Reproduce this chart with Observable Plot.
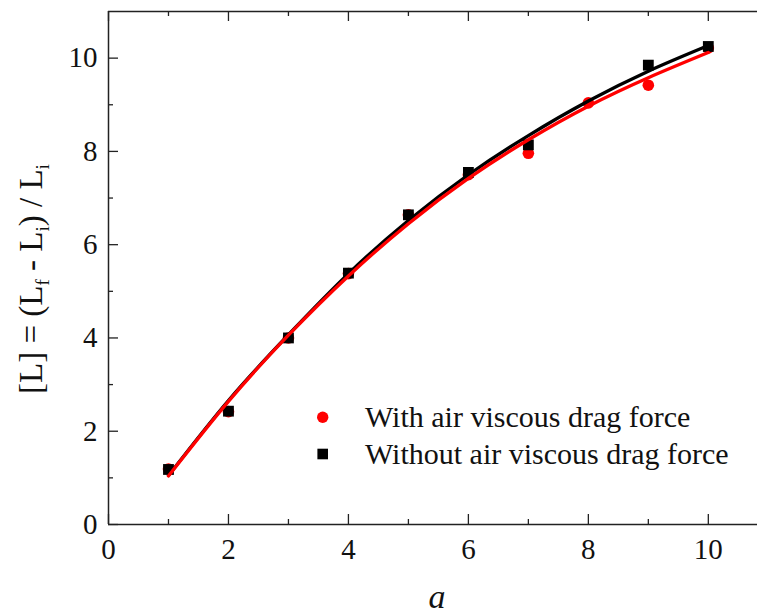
<!DOCTYPE html>
<html><head><meta charset="utf-8">
<script src="https://cdn.jsdelivr.net/npm/d3@7"></script>
<script src="https://cdn.jsdelivr.net/npm/@observablehq/plot@0.6"></script>
<style>
body{margin:0;background:#fff}
#chart svg, #chart svg text, #chart svg tspan { font-family: "Liberation Serif", "Times New Roman", Times, serif !important; }
</style>
</head><body><div id="chart"></div>
<script>
// ---- data ----
const aValues = [1, 2, 3, 4, 5, 6, 7, 8, 9, 10];
const withDrag = [1.19, 2.42, 4.00, 5.38, 6.64, 7.50, 7.96, 9.04, 9.42, 10.22];
const withoutDrag = [1.18, 2.43, 4.00, 5.39, 6.64, 7.55, 8.14, null, 9.85, 10.25];
const fitWithDrag = [1.04, 2.64, 4.06, 5.33, 6.45, 7.42, 8.25, 8.97, 9.58, 10.12];
const fitWithoutDrag = [1.05, 2.66, 4.07, 5.38, 6.52, 7.50, 8.34, 9.08, 9.72, 10.27];
const xMajorTicks = [0, 2, 4, 6, 8, 10];
const xMinorTicks = [1, 3, 5, 7, 9];
const yMajorTicks = [0, 2, 4, 6, 8, 10];
const yMinorTicks = [1, 3, 5, 7, 9];
const seriesNames = ["With air viscous drag force", "Without air viscous drag force"];
const seriesColors = ["#ff0000", "#000000"];

// ---- layout ----
const W = 757, H = 614, mL = 108, mR = 0, mT = 11, mB = 90;
const plotW = W - mL - mR, plotH = H - mT - mB;
const axisColor = "#222";
const font = "Liberation Serif";

const chart = Plot.plot({
  width: W, height: H,
  marginLeft: mL, marginRight: mR, marginTop: mT, marginBottom: mB,
  style: {fontFamily: font, fontSize: "29px", color: "#111", background: "#fff"},
  x: {domain: [0, 10.82]},
  y: {domain: [0, 11]},
  marks: [
    Plot.dot(aValues, {x: d => d, y: (d, i) => withDrag[i], r: 5.8, fill: seriesColors[0], stroke: null}),
    Plot.dot(aValues, {x: d => d, y: (d, i) => withoutDrag[i], r: 6.1, symbol: "square", fill: seriesColors[1], stroke: null}),
    Plot.line(aValues, {x: d => d, y: (d, i) => fitWithoutDrag[i], curve: "natural", stroke: seriesColors[1], strokeWidth: 3.3}),
    Plot.line(aValues, {x: d => d, y: (d, i) => fitWithDrag[i], curve: "natural", stroke: seriesColors[0], strokeWidth: 3.3}),
    Plot.ruleX([0], {stroke: axisColor, strokeWidth: 1.5}),
    Plot.ruleY([0, 11], {stroke: axisColor, strokeWidth: 1.5}),
    Plot.tickX(xMajorTicks, {x: d => d, insetTop: plotH - 10, stroke: axisColor, strokeWidth: 1.3}),
    Plot.tickX(xMinorTicks, {x: d => d, insetTop: plotH - 5, stroke: axisColor, strokeWidth: 1.3}),
    Plot.tickX(xMajorTicks, {x: d => d, insetBottom: plotH - 10, stroke: axisColor, strokeWidth: 1.3}),
    Plot.tickX(xMinorTicks, {x: d => d, insetBottom: plotH - 5, stroke: axisColor, strokeWidth: 1.3}),
    Plot.tickY(yMajorTicks, {y: d => d, insetRight: plotW - 10, stroke: axisColor, strokeWidth: 1.3}),
    Plot.tickY(yMinorTicks, {y: d => d, insetRight: plotW - 5, stroke: axisColor, strokeWidth: 1.3}),
    Plot.axisX({ticks: xMajorTicks, tickSize: 0, tickPadding: 14, label: null, fontSize: 29}),
    Plot.axisY({ticks: yMajorTicks, tickSize: 0, tickPadding: 11, label: null, fontSize: 29})
  ]
});

document.getElementById("chart").appendChild(chart);

// ---- annotations (labels and legend) ----
const svg = d3.select(chart);
const ann = svg.append("g").attr("font-family", font).attr("fill", "#111").attr("text-anchor", "start");

ann.append("text")
  .attr("x", 437).attr("y", 598)
  .attr("text-anchor", "middle").attr("dy", "0.3em")
  .attr("font-size", 34).attr("font-style", "italic")
  .text("a");

const yl = ann.append("text")
  .attr("transform", "translate(42,279) rotate(-90)")
  .attr("text-anchor", "middle")
  .attr("font-size", 33);
const parts = [["[L] = (L", false], ["f", true], [" - L", false], ["i", true], [") / L", false], ["i", true]];
parts.forEach(([t, sub], i) => {
  const prevSub = i > 0 && parts[i - 1][1];
  const ts = yl.append("tspan").text(t).attr("dy", sub ? 7 : (prevSub ? -7 : 0));
  if (sub) ts.attr("font-size", 19);
});

const legendX = 322.7, legendY = [417.3, 454];
ann.append("circle").attr("cx", legendX).attr("cy", legendY[0]).attr("r", 5.7).attr("fill", seriesColors[0]);
ann.append("rect").attr("x", legendX - 5.3).attr("y", legendY[1] - 5.3).attr("width", 10.6).attr("height", 10.6).attr("fill", seriesColors[1]);
seriesNames.forEach((name, i) => {
  ann.append("text").attr("x", 365).attr("y", legendY[i]).attr("dy", "0.32em")
    .attr("text-anchor", "start").attr("font-size", 30).text(name);
});
</script>
</body></html>
